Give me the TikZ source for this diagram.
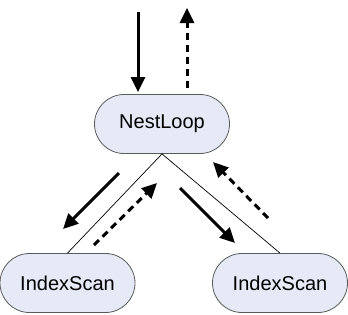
\documentclass[tikz,border=0pt]{standalone}
\usepackage{fontspec}
\setmainfont{Liberation Sans}
\usepackage{tikz}
\usetikzlibrary{arrows.meta,shapes.misc}

\definecolor{opfill}{RGB}{230,234,247}
\definecolor{opline}{RGB}{90,90,90}

\begin{document}
\begin{tikzpicture}[
                        x=1pt,y=-1pt,
                        every node/.style={
                                font=\fontsize{20}{24}\selectfont,
                            },
                        op/.style={
                                rounded rectangle,
                                draw=opline,
                                fill=opfill,
                                line width=0.8pt,
                                minimum width=135pt,
                                minimum height=59pt,
                                inner sep=0pt,
                            },
                        call/.style={
                                line width=3pt,
                                -{Triangle[length=15pt,width=14pt]},
                            },
                        tuple/.style={
                                call,
                                dash pattern=on 7pt off 5pt,
                            },
                    ]

                    \useasboundingbox (0,0) rectangle (348,314);

                    \node[op] (nl) at (162,124) {NestLoop};
                    \node[op] (outer) at (67.5,283) {IndexScan};
                    \node[op] (inner) at (280,283) {IndexScan};

                    \draw[line width=0.7pt] (nl.south) -- (outer.north);
                    \draw[line width=0.7pt] (nl.south) -- (inner.north);

                    % requests going down, rows coming back up
                    \coordinate (top-in) at (138,12);
                    \coordinate (top-in-end) at (138,92);
                    \coordinate (top-out) at (187,88);
                    \coordinate (top-out-end) at (187,8);
                    \coordinate (l-in) at (119,173);
                    \coordinate (l-in-end) at (63,229);
                    \coordinate (l-out) at (94,245);
                    \coordinate (l-out-end) at (157,183);
                    \coordinate (r-in) at (180,188);
                    \coordinate (r-in-end) at (235,243);
                    \coordinate (r-out) at (268,218);
                    \coordinate (r-out-end) at (213,162);

                    \foreach \a in {top,l,r}{
                            \draw[call] (\a-in) -- (\a-in-end);
                            \draw[tuple] (\a-out) -- (\a-out-end);
                        }
                \end{tikzpicture}
\end{document}
